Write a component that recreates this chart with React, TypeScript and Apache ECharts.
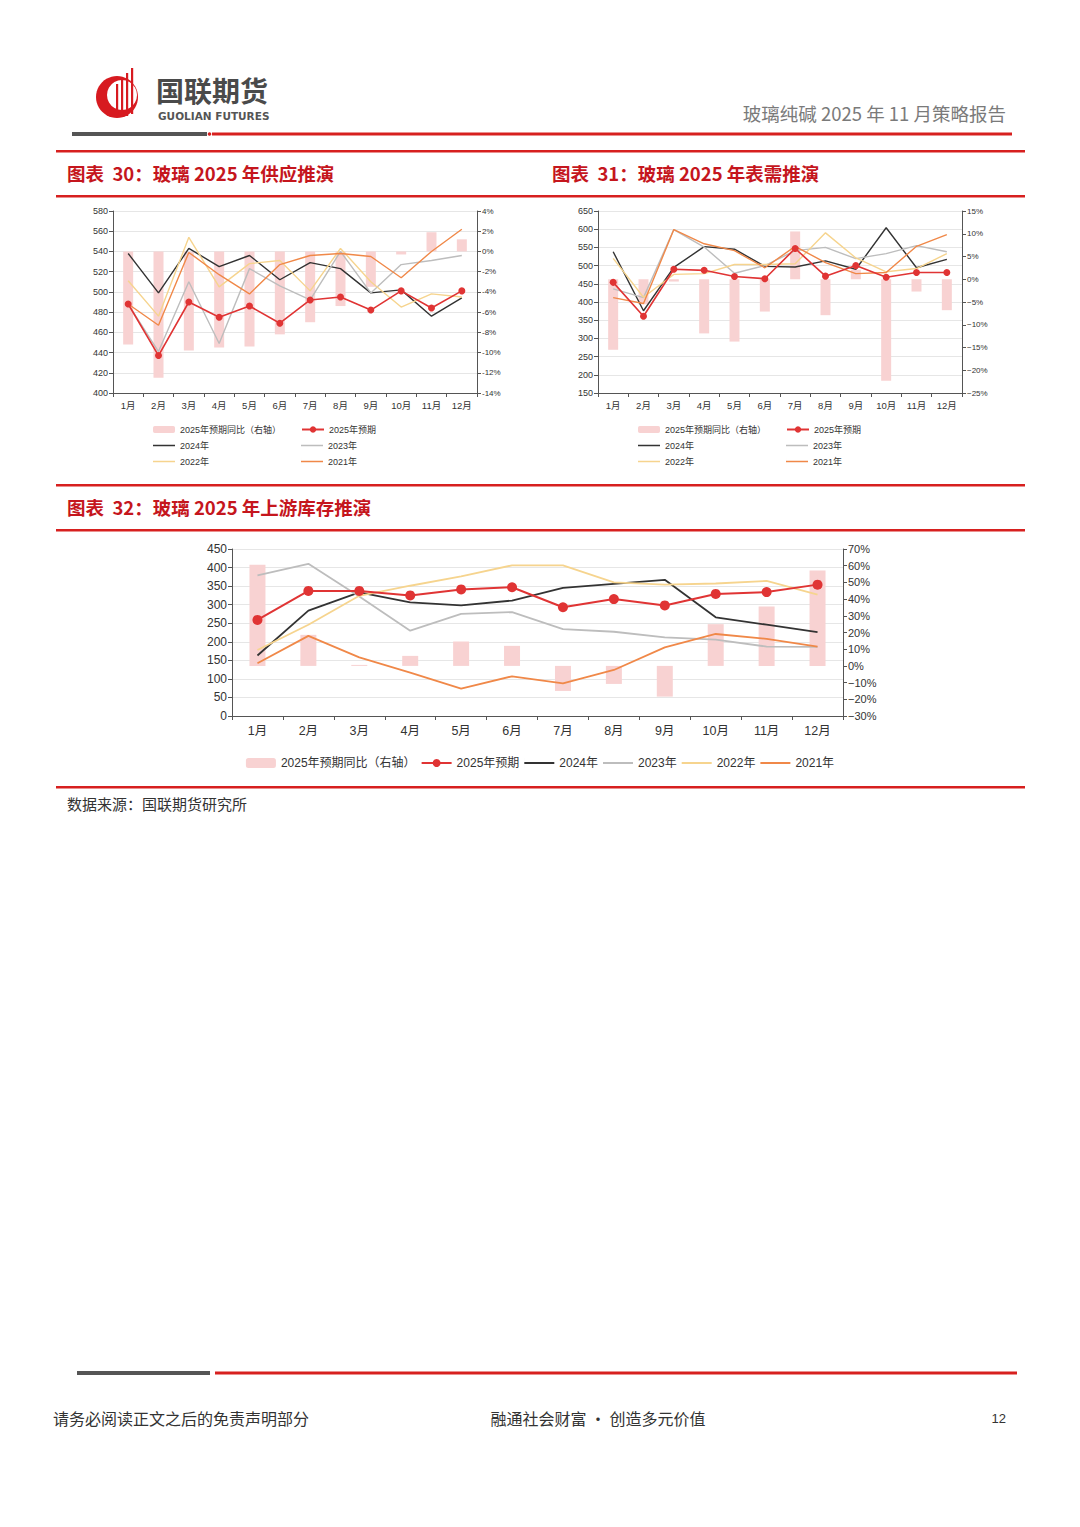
import React, { useEffect, useRef } from "react";
import * as echarts from "echarts";

const months = ["1月", "2月", "3月", "4月", "5月", "6月", "7月", "8月", "9月", "10月", "11月", "12月"];

// 图表30 供应
const supplyYoY = [-9.2, -12.5, -9.8, -9.5, -9.4, -8.2, -7.0, -5.4, -3.5, -0.3, 1.9, 1.2];
const supply2025 = [488, 437, 490, 475, 486, 469, 492, 495, 482, 501, 484, 501];
const supply2024 = [538, 499, 543, 525, 536, 512, 529, 523, 499, 502, 476, 494];
const supply2023 = [488, 441, 510, 449, 523, 506, 492, 540, 499, 527, 531, 536];
const supply2022 = [511, 476, 554, 505, 528, 531, 501, 543, 510, 485, 498, 495];
const supply2021 = [488, 467, 539, 517, 498, 527, 536, 538, 535, 514, 540, 562];

// 图表31 表需
const demandYoY = [-15.5, -5.5, -0.5, -11.9, -13.7, -7.1, 10.5, -7.9, 2.1, -22.3, -2.7, -6.8];
const demand2025 = [454, 361, 490, 487, 470, 464, 547, 471, 500, 468, 481, 481];
const demand2024 = [538, 376, 495, 552, 545, 498, 496, 513, 490, 604, 494, 517];
const demand2023 = [436, 412, 599, 551, 479, 500, 541, 550, 519, 533, 555, 538];
const demand2022 = [520, 413, 476, 478, 503, 503, 505, 590, 521, 483, 492, 533];
const demand2021 = [412, 396, 599, 560, 541, 494, 553, 508, 478, 481, 553, 585];

// 图表32 上游库存
const invYoY = [60.6, 18.6, 0.6, 6.0, 14.6, 12.0, -15.0, -10.8, -18.4, 25.0, 35.6, 57.2];
const inv2025 = [259, 337, 337, 325, 341, 347, 293, 315, 298, 329, 334, 354];
const inv2024 = [163, 284, 333, 306, 298, 311, 345, 356, 367, 266, 246, 226];
const inv2023 = [379, 410, 322, 230, 275, 280, 234, 227, 212, 206, 187, 186];
const inv2022 = [178, 246, 324, 351, 376, 406, 406, 360, 354, 357, 364, 327];
const inv2021 = [142, 216, 158, 117, 74, 107, 88, 124, 185, 221, 208, 187];

const seriesNames = ["2025年预期同比（右轴）", "2025年预期", "2024年", "2023年", "2022年", "2021年"];

const FONT = "'Liberation Sans', 'Noto Sans CJK SC', sans-serif";
const CJK = "'Noto Sans CJK SC', sans-serif";
const RED = "#D7201F";
const C_BAR = "#F8D2D2";
const C_2025 = "#E03434";
const C_2024 = "#333333";
const C_2023 = "#BDBDBD";
const C_2022 = "#F6D48E";
const C_2021 = "#F08848";

// thin line legend icons (invisible sliver at left keeps the full box height)
const LINE_ICON_SMALL = "path://M0,0H0.01V8H0Z M0,3.2H22V4.8H0Z";
const LINE_ICON_BIG = "path://M0,0H0.01V10H0Z M0,4H30V6H0Z";

function buildSeries(idx: number, yoy: number[], s25: number[], s24: number[], s23: number[], s22: number[], s21: number[], big: boolean) {
  const lw = big ? 1.8 : 1.4;
  const left = idx * 2;
  const right = idx * 2 + 1;
  const line = (name: string, data: number[], color: string) => ({
    type: "line",
    name,
    data,
    xAxisIndex: idx,
    yAxisIndex: left,
    symbol: "none",
    lineStyle: { color, width: lw },
    itemStyle: { color },
  });
  return [
    {
      type: "bar",
      name: seriesNames[0],
      data: yoy,
      xAxisIndex: idx,
      yAxisIndex: right,
      barWidth: big ? 16 : 10,
      itemStyle: { color: C_BAR },
    },
    line(seriesNames[2], s24, C_2024),
    line(seriesNames[3], s23, C_2023),
    line(seriesNames[4], s22, C_2022),
    line(seriesNames[5], s21, C_2021),
    {
      type: "line",
      name: seriesNames[1],
      data: s25,
      xAxisIndex: idx,
      yAxisIndex: left,
      symbol: "circle",
      symbolSize: big ? 10 : 7,
      lineStyle: { color: C_2025, width: big ? 2 : 1.6 },
      itemStyle: { color: C_2025 },
    },
  ];
}

function xAxis(idx: number, fs: number, margin: number) {
  return {
    type: "category",
    gridIndex: idx,
    data: months,
    boundaryGap: true,
    axisLine: { show: true, onZero: false, lineStyle: { color: "#555", width: 1 } },
    axisTick: { show: true, alignWithLabel: false, length: 4, lineStyle: { color: "#555" } },
    axisLabel: { fontSize: fs, color: "#333", fontFamily: FONT, margin },
    splitLine: { show: false },
  };
}

function yAxis(idx: number, pos: string, min: number, max: number, interval: number, fs: number, fmt?: (v: number) => string, split?: boolean) {
  return {
    type: "value",
    gridIndex: idx,
    position: pos,
    min,
    max,
    interval,
    axisLine: { show: true, onZero: false, lineStyle: { color: "#555", width: 1 } },
    axisTick: { show: true, length: 4, lineStyle: { color: "#555" } },
    axisLabel: { fontSize: fs, color: "#333", fontFamily: FONT, margin: 5, formatter: fmt },
    splitLine: { show: !!split, lineStyle: { color: "#E6E6E6", width: 1 } },
  };
}

const pctHyphen = (v: number) => `${v}%`;
const pctMinus = (v: number) => (v < 0 ? `−${Math.abs(v)}%` : `${v}%`);

function smallLegend(name: string, left: number, cy: number, kind: string) {
  const item: any = { name };
  if (kind === "line") item.icon = LINE_ICON_SMALL;
  return {
    data: [item],
    left,
    top: cy - 6,
    orient: "horizontal",
    padding: 0,
    itemWidth: 22,
    itemHeight: kind === "bar" ? 7 : 8,
    itemGap: 0,
    selectedMode: false,
    textStyle: { fontSize: 9, color: "#333", fontFamily: FONT },
  };
}

function legendsFor(col1: number, col2: number) {
  return [
    smallLegend(seriesNames[0], col1, 431, "bar"),
    smallLegend(seriesNames[1], col2, 431, "marker"),
    smallLegend(seriesNames[2], col1, 447, "line"),
    smallLegend(seriesNames[3], col2, 447, "line"),
    smallLegend(seriesNames[4], col1, 463, "line"),
    smallLegend(seriesNames[5], col2, 463, "line"),
  ];
}

function txt(text: string, x: number, y: number, fontSize: number, fill: string, extra: any = {}) {
  return {
    type: "text",
    x,
    y,
    silent: true,
    style: {
      text,
      fontSize,
      fill,
      fontFamily: extra.fontFamily || CJK,
      fontWeight: extra.fontWeight || "normal",
      align: extra.align || "left",
      verticalAlign: "middle",
    },
  };
}

function hRect(x: number, y: number, w: number, h: number, fill: string) {
  return { type: "rect", silent: true, shape: { x, y, width: w, height: h }, style: { fill } };
}

export default function App() {
  const ref = useRef<HTMLDivElement>(null);
  useEffect(() => {
    if (!ref.current) return;
    const chart = echarts.init(ref.current, undefined, { renderer: "svg" });

    const graphic: any[] = [
      // logo
      { type: "circle", silent: true, shape: { cx: 117, cy: 97, r: 21 }, style: { fill: "#D71A20" } },
      { type: "circle", silent: true, shape: { cx: 122, cy: 95, r: 15 }, style: { fill: "#fff" } },
      hRect(116, 84, 2.2, 30, "#D71A20"),
      hRect(121, 78, 2.2, 38, "#D71A20"),
      hRect(126, 73, 2.2, 43, "#D71A20"),
      hRect(131, 68, 2.2, 46, "#D71A20"),
      txt("国联期货", 156, 90, 28, "#4A4A4A", { fontWeight: "bold" }),
      txt("GUOLIAN FUTURES", 158, 115.5, 10.5, "#555", { fontFamily: "'DejaVu Sans', sans-serif", fontWeight: "bold" }),
      txt("玻璃纯碱 2025 年 11 月策略报告", 1006, 113, 18.5, "#7A7A7A", { align: "right" }),
      hRect(72, 132, 135, 4, "#555"),
      { type: "circle", silent: true, shape: { cx: 209.5, cy: 134, r: 1.8 }, style: { fill: RED } },
      hRect(212, 132.5, 800, 3, RED),
      // section lines
      hRect(56, 150, 969, 2.5, RED),
      hRect(56, 195, 969, 2.5, RED),
      hRect(56, 484, 969, 2.5, RED),
      hRect(56, 529, 969, 2.5, RED),
      hRect(56, 786, 969, 2.5, RED),
      txt("图表  30：玻璃 2025 年供应推演", 67, 173, 18.5, "#C5161D", { fontWeight: "bold" }),
      txt("图表  31：玻璃 2025 年表需推演", 552, 173, 18.5, "#C5161D", { fontWeight: "bold" }),
      txt("图表  32：玻璃 2025 年上游库存推演", 67, 507, 18.5, "#C5161D", { fontWeight: "bold" }),
      txt("数据来源：国联期货研究所", 67, 803, 15, "#333"),
      // footer
      hRect(77, 1371, 133, 4, "#555"),
      hRect(215, 1371.5, 802, 3, RED),
      txt("请务必阅读正文之后的免责声明部分", 53, 1418, 16, "#333"),
      txt("融通社会财富 • 创造多元价值", 598, 1418, 16, "#333", { align: "center" }),
      txt("12", 1006, 1418, 13, "#333", { fontFamily: FONT, align: "right" }),
    ];

    const option: any = {
      animation: false,
      backgroundColor: "#fff",
      textStyle: { fontFamily: FONT },
      grid: [
        { left: 113, top: 211, width: 364, height: 182, containLabel: false },
        { left: 598, top: 211, width: 364, height: 182, containLabel: false },
        { left: 232, top: 549, width: 611, height: 167, containLabel: false },
      ],
      xAxis: [xAxis(0, 9.5, 8), xAxis(1, 9.5, 8), xAxis(2, 12.5, 9)],
      yAxis: [
        yAxis(0, "left", 400, 580, 20, 9, undefined, true),
        yAxis(0, "right", -14, 4, 2, 8, pctHyphen, false),
        yAxis(1, "left", 150, 650, 50, 9, undefined, true),
        yAxis(1, "right", -25, 15, 5, 8, pctMinus, false),
        yAxis(2, "left", 0, 450, 50, 12, undefined, true),
        yAxis(2, "right", -30, 70, 10, 11, pctMinus, false),
      ],
      legend: [
        ...legendsFor(153, 301),
        ...legendsFor(638, 786),
        {
          data: [
            { name: seriesNames[0] },
            { name: seriesNames[1] },
            { name: seriesNames[2], icon: LINE_ICON_BIG },
            { name: seriesNames[3], icon: LINE_ICON_BIG },
            { name: seriesNames[4], icon: LINE_ICON_BIG },
            { name: seriesNames[5], icon: LINE_ICON_BIG },
          ],
          left: "center",
          top: 757,
          orient: "horizontal",
          padding: 0,
          itemWidth: 30,
          itemHeight: 10,
          itemGap: 5,
          selectedMode: false,
          textStyle: { fontSize: 12, color: "#333", fontFamily: FONT },
        },
      ],
      series: [
        ...buildSeries(0, supplyYoY, supply2025, supply2024, supply2023, supply2022, supply2021, false),
        ...buildSeries(1, demandYoY, demand2025, demand2024, demand2023, demand2022, demand2021, false),
        ...buildSeries(2, invYoY, inv2025, inv2024, inv2023, inv2022, inv2021, true),
      ],
      graphic,
    };
    chart.setOption(option);
    return () => chart.dispose();
  }, []);
  return <div ref={ref} style={{ position: "absolute", left: 0, top: 0, width: 1080, height: 1527, background: "#fff" }} />;
}
